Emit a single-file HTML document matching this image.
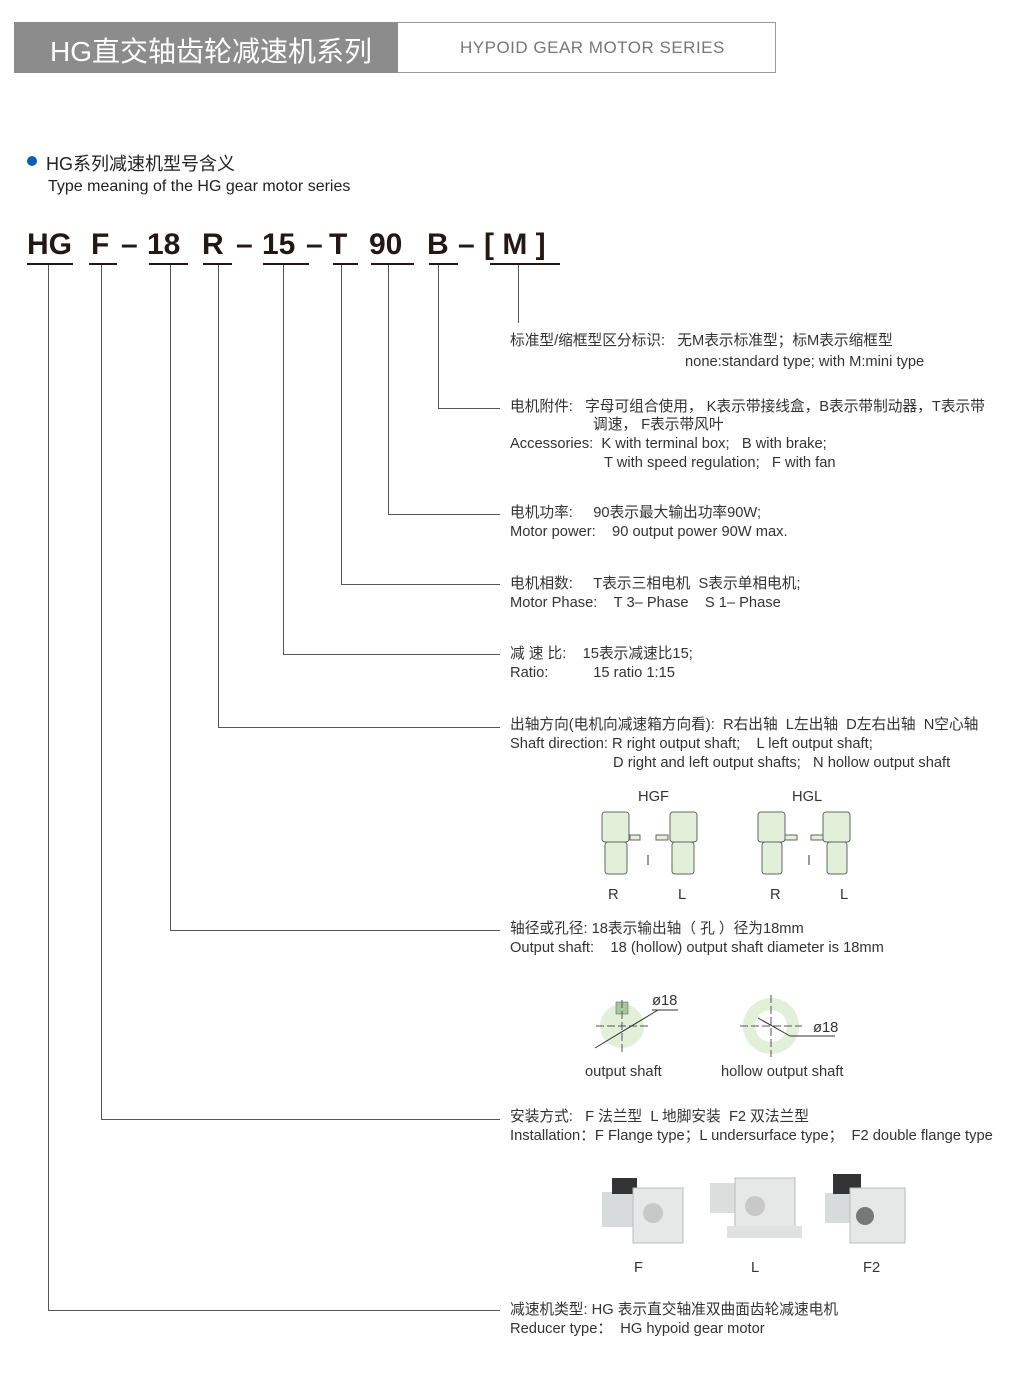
<!DOCTYPE html>
<html><head><meta charset="utf-8"><style>
body{margin:0;width:1018px;height:1373px;background:#fff;position:relative;overflow:hidden;font-family:"Liberation Sans","Noto Sans CJK SC",sans-serif;color:#333}
.a{position:absolute;white-space:nowrap}
.t{font-size:14.7px;color:#333;line-height:19px}
.code{font-family:"Liberation Sans",sans-serif;font-weight:bold;font-size:30px;color:#231815;top:228px}
.u{position:absolute;top:263px;height:2px;background:#231815}
.v{position:absolute;width:1px;background:#555}
.h{position:absolute;height:1px;background:#555}
</style></head><body>
<div class="a" style="left:14px;top:22px;width:384px;height:51px;background:#8c8c8c"></div>
<div class="a" style="left:398px;top:22px;width:377px;height:49px;border:1px solid #999;border-left:none"></div>
<div class="a" style="left:50px;top:30px;font-size:28px;color:#fff;">HG直交轴齿轮减速机系列</div>
<div class="a" style="left:460px;top:38px;font-size:17px;color:#777;letter-spacing:0.5px">HYPOID GEAR MOTOR SERIES</div>
<div class="a" style="left:27px;top:156px;width:10px;height:10px;border-radius:50%;background:#0a5fb4"></div>
<div class="a" style="left:46px;top:150px;font-size:18px;color:#222">HG系列减速机型号含义</div>
<div class="a" style="left:48px;top:178px;font-size:16px;color:#222">Type meaning of the HG gear motor series</div>

<div class="a code" style="left:27px">HG</div>
<div class="a code" style="left:91px">F</div>
<div class="a code" style="left:121px">–</div>
<div class="a code" style="left:147px">18</div>
<div class="a code" style="left:202px">R</div>
<div class="a code" style="left:236px">–</div>
<div class="a code" style="left:262px">15</div>
<div class="a code" style="left:306px">–</div>
<div class="a code" style="left:329px">T</div>
<div class="a code" style="left:369px">90</div>
<div class="a code" style="left:427px">B</div>
<div class="a code" style="left:458px">–</div>
<div class="a code" style="left:484px">[ M ]</div>
<div class="u" style="left:27px;width:46px"></div>
<div class="u" style="left:89px;width:28px"></div>
<div class="u" style="left:149px;width:39px"></div>
<div class="u" style="left:203px;width:29px"></div>
<div class="u" style="left:263px;width:46px"></div>
<div class="u" style="left:333px;width:25px"></div>
<div class="u" style="left:371px;width:43px"></div>
<div class="u" style="left:429px;width:29px"></div>
<div class="u" style="left:490px;width:70px"></div>

<div class="v" style="left:48px;top:265px;height:1045px"></div><div class="h" style="left:48px;top:1310px;width:452px"></div>
<div class="v" style="left:101px;top:265px;height:854px"></div><div class="h" style="left:101px;top:1119px;width:399px"></div>
<div class="v" style="left:170px;top:265px;height:665px"></div><div class="h" style="left:170px;top:930px;width:330px"></div>
<div class="v" style="left:218px;top:265px;height:462px"></div><div class="h" style="left:218px;top:727px;width:282px"></div>
<div class="v" style="left:283px;top:265px;height:389px"></div><div class="h" style="left:283px;top:654px;width:217px"></div>
<div class="v" style="left:341px;top:265px;height:319px"></div><div class="h" style="left:341px;top:584px;width:159px"></div>
<div class="v" style="left:388px;top:265px;height:249px"></div><div class="h" style="left:388px;top:514px;width:112px"></div>
<div class="v" style="left:438px;top:265px;height:143px"></div><div class="h" style="left:438px;top:408px;width:62px"></div>
<div class="v" style="left:518px;top:265px;height:58px"></div>

<div class="a t" style="left:510px;top:332px">标准型/缩框型区分标识:&nbsp;&nbsp;&nbsp;无M表示标准型；标M表示缩框型</div>
<div class="a t" style="left:685px;top:353px">none:standard type; with M:mini type</div>
<div class="a t" style="left:510px;top:398px">电机附件:&nbsp;&nbsp;&nbsp;字母可组合使用， K表示带接线盒，B表示带制动器，T表示带</div>
<div class="a t" style="left:593px;top:416px">调速， F表示带风叶</div>
<div class="a t" style="left:510px;top:435px">Accessories:&nbsp;&nbsp;K with terminal box;&nbsp;&nbsp;&nbsp;B with brake;</div>
<div class="a t" style="left:604px;top:454px">T with speed regulation;&nbsp;&nbsp;&nbsp;F with fan</div>
<div class="a t" style="left:510px;top:504px">电机功率:&nbsp;&nbsp;&nbsp;&nbsp;&nbsp;90表示最大输出功率90W;</div>
<div class="a t" style="left:510px;top:523px">Motor power:&nbsp;&nbsp;&nbsp;&nbsp;90 output power 90W max.</div>
<div class="a t" style="left:510px;top:575px">电机相数:&nbsp;&nbsp;&nbsp;&nbsp;&nbsp;T表示三相电机&nbsp;&nbsp;S表示单相电机;</div>
<div class="a t" style="left:510px;top:594px">Motor Phase:&nbsp;&nbsp;&nbsp;&nbsp;T 3– Phase&nbsp;&nbsp;&nbsp;&nbsp;S 1– Phase</div>
<div class="a t" style="left:510px;top:645px">减 速 比:&nbsp;&nbsp;&nbsp;&nbsp;15表示减速比15;</div>
<div class="a t" style="left:510px;top:664px">Ratio:&nbsp;&nbsp;&nbsp;&nbsp;&nbsp;&nbsp;&nbsp;&nbsp;&nbsp;&nbsp;&nbsp;15 ratio 1:15</div>
<div class="a t" style="left:510px;top:716px">出轴方向(电机向减速箱方向看):&nbsp;&nbsp;R右出轴&nbsp;&nbsp;L左出轴&nbsp;&nbsp;D左右出轴&nbsp;&nbsp;N空心轴</div>
<div class="a t" style="left:510px;top:735px">Shaft direction: R right output shaft;&nbsp;&nbsp;&nbsp;&nbsp;L left output shaft;</div>
<div class="a t" style="left:613px;top:754px">D right and left output shafts;&nbsp;&nbsp;&nbsp;N hollow output shaft</div>

<div class="a t" style="left:638px;top:788px">HGF</div>
<div class="a t" style="left:792px;top:788px">HGL</div>
<svg class="a" style="left:595px;top:805px" width="280" height="80">
<g fill="#e2efd9" stroke="#666" stroke-width="1">
<rect x="7" y="7" width="27" height="30" rx="3"/><rect x="10" y="37" width="22" height="32" rx="3"/><rect x="35" y="30" width="10" height="5"/>
<rect x="75" y="7" width="27" height="30" rx="3"/><rect x="77" y="37" width="22" height="32" rx="3"/><rect x="61" y="30" width="12" height="5"/>
<rect x="163" y="7" width="27" height="30" rx="3"/><rect x="167" y="37" width="20" height="32" rx="3"/><rect x="190" y="30" width="12" height="5"/>
<rect x="228" y="7" width="27" height="30" rx="3"/><rect x="232" y="37" width="20" height="32" rx="3"/><rect x="216" y="30" width="12" height="5"/>
</g><line x1="53" y1="50" x2="53" y2="60" stroke="#333"/><line x1="214" y1="50" x2="214" y2="60" stroke="#333"/></svg>
<div class="a t" style="left:608px;top:886px">R</div><div class="a t" style="left:678px;top:886px">L</div>
<div class="a t" style="left:770px;top:886px">R</div><div class="a t" style="left:840px;top:886px">L</div>

<div class="a t" style="left:510px;top:920px">轴径或孔径:&nbsp;18表示输出轴（ 孔 ）径为18mm</div>
<div class="a t" style="left:510px;top:939px">Output shaft:&nbsp;&nbsp;&nbsp;&nbsp;18 (hollow) output shaft diameter is 18mm</div>
<svg class="a" style="left:590px;top:990px" width="270" height="70">
<circle cx="32" cy="36" r="22" fill="#e2efd9"/><rect x="26" y="12" width="12" height="12" fill="#a6c89a" stroke="#555" stroke-width="0.5"/>
<line x1="6" y1="36" x2="58" y2="36" stroke="#555" stroke-dasharray="8,3"/><line x1="32" y1="10" x2="32" y2="62" stroke="#555" stroke-dasharray="8,3"/>
<line x1="5" y1="58" x2="68" y2="20" stroke="#333"/><line x1="62" y1="20" x2="88" y2="20" stroke="#333"/>
<circle cx="181" cy="36" r="28" fill="#e2efd9"/><circle cx="181" cy="36" r="16" fill="#fff"/>
<line x1="150" y1="36" x2="212" y2="36" stroke="#555" stroke-dasharray="8,3"/><line x1="181" y1="5" x2="181" y2="67" stroke="#555" stroke-dasharray="8,3"/>
<line x1="168" y1="28" x2="200" y2="46" stroke="#333"/><line x1="200" y1="46" x2="245" y2="46" stroke="#333"/></svg>
<div class="a t" style="left:652px;top:992px">ø18</div><div class="a t" style="left:813px;top:1019px">ø18</div>
<div class="a t" style="left:585px;top:1063px">output shaft</div>
<div class="a t" style="left:721px;top:1063px">hollow output shaft</div>

<div class="a t" style="left:510px;top:1108px">安装方式:&nbsp;&nbsp;&nbsp;F 法兰型&nbsp;&nbsp;L 地脚安装&nbsp;&nbsp;F2 双法兰型</div>
<div class="a t" style="left:510px;top:1127px">Installation：F Flange type；L undersurface type；&nbsp;&nbsp;F2 double flange type</div>
<svg class="a" style="left:595px;top:1168px" width="320" height="85">
<rect x="7" y="24" width="35" height="35" fill="#d8dbdb"/><rect x="17" y="10" width="25" height="16" fill="#333"/><rect x="38" y="20" width="50" height="55" fill="#e6e8e8" stroke="#bbb"/><circle cx="58" cy="45" r="10" fill="#c8c8c8"/>
<rect x="115" y="15" width="30" height="30" fill="#dcdede"/><rect x="140" y="10" width="60" height="55" fill="#e6e8e8" stroke="#bbb"/><rect x="132" y="58" width="75" height="12" fill="#e0e2e2"/><circle cx="160" cy="38" r="10" fill="#c8c8c8"/>
<rect x="230" y="25" width="30" height="30" fill="#d8dbdb"/><rect x="238" y="6" width="28" height="20" fill="#333"/><rect x="255" y="20" width="55" height="55" fill="#e6e8e8" stroke="#bbb"/><circle cx="270" cy="48" r="9" fill="#777"/>
</svg>
<div class="a t" style="left:634px;top:1259px">F</div><div class="a t" style="left:751px;top:1259px">L</div><div class="a t" style="left:863px;top:1259px">F2</div>

<div class="a t" style="left:510px;top:1301px">减速机类型:&nbsp;HG 表示直交轴准双曲面齿轮减速电机</div>
<div class="a t" style="left:510px;top:1320px">Reducer type：&nbsp;&nbsp;HG hypoid gear motor</div>
</body></html>
